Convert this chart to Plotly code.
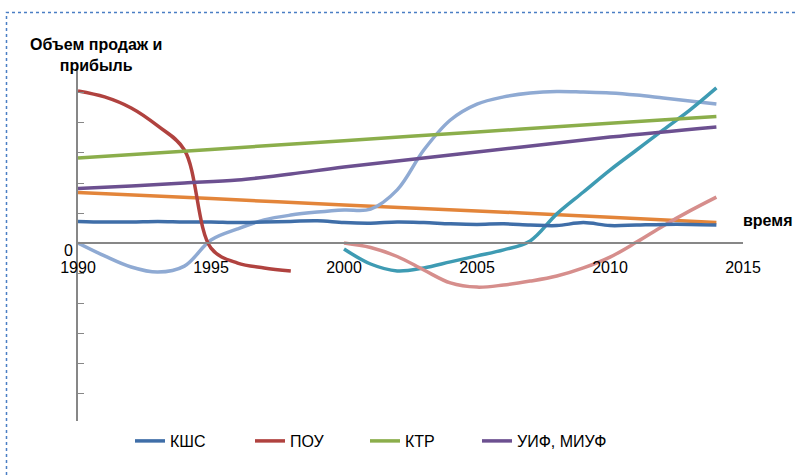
import plotly.graph_objects as go

years = list(range(1990, 2015))

kshs_x = years
kshs_y = [0.72, 0.70, 0.70, 0.72, 0.70, 0.70, 0.68, 0.70, 0.72, 0.74, 0.68, 0.66, 0.70,
          0.68, 0.64, 0.62, 0.64, 0.60, 0.58, 0.68, 0.58, 0.60, 0.62, 0.62, 0.60]

pou_x = [1990, 1991, 1992, 1993, 1994, 1995, 1996, 1997, 1998]
pou_y = [5.07, 4.87, 4.50, 3.90, 3.10, -0.17, -0.67, -0.83, -0.93]

ktr_x = [1990, 1995, 2000, 2005, 2010, 2014]
ktr_y = [2.83, 3.12, 3.41, 3.70, 3.99, 4.22]

uif_x = [1990, 1992, 1994, 1996, 1998, 2000, 2005, 2010, 2014]
uif_y = [1.82, 1.90, 2.00, 2.10, 2.30, 2.53, 3.03, 3.53, 3.87]

orange_x = [1990, 1995, 2000, 2005, 2010, 2014]
orange_y = [1.68, 1.48, 1.27, 1.07, 0.86, 0.68]

lblue_x = list(range(1990, 2015))
lblue_y = [0.00, -0.43, -0.80, -0.97, -0.77, 0.10, 0.47, 0.77, 0.93, 1.03, 1.10, 1.13, 1.77,
           3.10, 4.10, 4.63, 4.87, 5.00, 5.05, 5.03, 5.00, 4.93, 4.83, 4.73, 4.63]

teal_x = list(range(2000, 2015))
teal_y = [-0.20, -0.70, -0.93, -0.83, -0.63, -0.43, -0.23, 0.07, 0.97, 1.70, 2.43, 3.10,
          3.77, 4.43, 5.17]

pink_x = list(range(2000, 2015))
pink_y = [0.00, -0.15, -0.45, -0.90, -1.33, -1.47, -1.40, -1.27, -1.10, -0.83, -0.47, 0.03,
          0.57, 1.07, 1.53]

x_ticks = [1990, 1995, 2000, 2005, 2010, 2015]
y_ticks = [-6, -5, -4, -3, -2, -1, 0, 1, 2, 3, 4, 5]
y_ticktext = ["0" if v == 0 else "" for v in y_ticks]

W, H = 797, 475
L, R, T, B = 78, 54, 68, 54
pw, ph = W - L - R, H - T - B


def px(xp):
    return (xp - L) / pw


def py(yp):
    return (H - B - yp) / ph


fig = go.Figure()


def add(x, y, name, color, legend=None):
    fig.add_trace(go.Scatter(x=x, y=y, mode="lines", name=name,
                             showlegend=legend is not None,
                             legend=legend if legend else "legend",
                             line=dict(color=color, width=3.5, shape="spline", smoothing=1.0)))


add(orange_x, orange_y, "ряд5", "#E3853A")
add(lblue_x, lblue_y, "ряд6", "#8FAAD3")
add(teal_x, teal_y, "ряд7", "#3E9BB3")
add(pink_x, pink_y, "ряд8", "#D68E8C")
add(kshs_x, kshs_y, "КШС", "#3F6EA8", "legend")
add(pou_x, pou_y, "ПОУ", "#B0423F", "legend2")
add(ktr_x, ktr_y, "КТР", "#8BAE4B", "legend3")
add(uif_x, uif_y, "УИФ, МИУФ", "#6C5090", "legend4")

ymin, ymax = -5.933, 5.833

legend_common = dict(orientation="h", xanchor="left", yanchor="middle",
                     font=dict(size=16), bgcolor="rgba(0,0,0,0)")

fig.update_layout(
    width=W, height=H,
    margin=dict(l=L, r=R, t=T, b=B, autoexpand=False),
    paper_bgcolor="white", plot_bgcolor="white",
    font=dict(family="Liberation Sans, Arial, sans-serif", size=16, color="black"),
    xaxis=dict(range=[1990, 2015], tickvals=x_ticks, showgrid=False, zeroline=False,
               showline=True, linecolor="#878787", linewidth=2, automargin=False,
               anchor="free", position=(0 - ymin) / (ymax - ymin),
               ticks="", ticklabelstandoff=10, tickfont=dict(size=16)),
    yaxis=dict(range=[ymin, ymax], tickvals=y_ticks, ticktext=y_ticktext, showgrid=False,
               zeroline=False, showline=True, linecolor="#878787", linewidth=2,
               automargin=False,
               ticks="inside", ticklen=6, tickcolor="#878787", tickwidth=1,
               tickfont=dict(size=16), ticklabelshift=7),
    legend=dict(x=px(130), y=py(441), **legend_common),
    legend2=dict(x=px(250), y=py(441), **legend_common),
    legend3=dict(x=px(365), y=py(441), **legend_common),
    legend4=dict(x=px(477), y=py(441), **legend_common),
    showlegend=True,
)

fig.add_annotation(text="<b>Объем продаж и<br>прибыль</b>", xref="paper", yref="paper",
                   x=px(96), y=py(55), xanchor="center", yanchor="middle",
                   showarrow=False, font=dict(size=16), align="center")
fig.add_annotation(text="<b>время</b>", xref="paper", yref="paper",
                   x=px(767), y=py(220), xanchor="center", yanchor="middle",
                   showarrow=False, font=dict(size=16))

fig.add_shape(type="rect", xref="paper", yref="paper",
              x0=px(6.5), x1=px(820), y0=py(500), y1=py(12.5),
              line=dict(color="#4A7EC4", width=1.5, dash="dot"), layer="below")

fig.write_html("out.html", config={"displayModeBar": False},
               post_script="document.body.style.margin='0';document.body.style.overflow='hidden';")
